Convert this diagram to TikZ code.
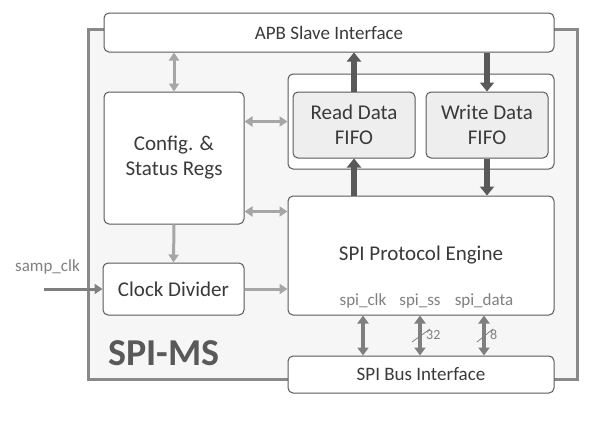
\documentclass[tikz,border=0pt]{standalone}
\usepackage{fontspec}
\setmainfont{Carlito}
\usetikzlibrary{positioning}
\usetikzlibrary{arrows.meta}
\definecolor{boxline}{HTML}{595959}
\definecolor{frameline}{HTML}{898989}
\definecolor{framefill}{HTML}{F6F6F6}
\definecolor{fifofill}{HTML}{EEEEEE}
\definecolor{litearrow}{HTML}{A6A6A6}
\definecolor{darkarrow}{HTML}{595959}
\definecolor{busarrow}{HTML}{7F7F7F}
\definecolor{textdark}{HTML}{3A3A3A}
\definecolor{textgray}{HTML}{808080}

\begin{document}
\begin{tikzpicture}[x=1pt,y=-1pt]
\tikzset{block/.style={rectangle, rounded corners=5pt, draw=boxline, line width=1pt, fill=white, text=textdark, align=center, font=\fontsize{21}{25}\selectfont, inner sep=0pt}}
\tikzset{fifo/.style={block, fill=fifofill, minimum width=122pt, minimum height=66pt}}
\tikzset{frame/.style={rectangle, draw=frameline, line width=3pt, fill=framefill, minimum width=489pt, minimum height=350pt}}
\tikzset{ctrl/.style={draw=litearrow, line width=3pt, -{Triangle[width=10pt,length=8pt]}}}
\tikzset{ctrl2/.style={ctrl, {Triangle[width=10pt,length=8pt]}-{Triangle[width=10pt,length=8pt]}}}
\tikzset{data/.style={draw=darkarrow, line width=6pt, -{Triangle[width=14pt,length=9pt]}}}
\tikzset{pin/.style={draw=busarrow, line width=4pt, {Triangle[width=11pt,length=8pt]}-{Triangle[width=11pt,length=8pt]}}}
\tikzset{sig/.style={text=textgray, font=\fontsize{17}{20}\selectfont, inner sep=0pt, anchor=base}}
\tikzset{slash/.style={draw=busarrow, line width=0.8pt}}
\tikzset{buswidth/.style={text=textgray, font=\fontsize{14}{16}\selectfont, inner sep=0pt, anchor=west}}
\useasboundingbox (0,0) rectangle (600,421);
% outer block
\node[frame] (spims) at (332.5,204) {};
\node[text=boxline, font=\fontsize{38}{40}\selectfont\bfseries, inner sep=0pt, anchor=base west] (title) at (108,365) {SPI-MS};
% boxes
\node[block, minimum width=450pt, minimum height=39pt, font=\fontsize{19}{23}\selectfont] (apb) at (329,32.5) {APB Slave Interface};
\node[block, minimum width=140pt, minimum height=132pt] (cfg) at (174,158) {Config. \&\\Status Regs};
\node[block, minimum width=266pt, minimum height=95pt] (fifos) at (421,121.5) {};
\node[fifo] (rdfifo) at (354,125) {Read Data\\FIFO};
\node[fifo, right = 10pt of rdfifo] (wrfifo) {Write Data\\FIFO};
\node[block, minimum width=266pt, minimum height=119pt] (eng) at (421,255.5) {SPI Protocol Engine};
\node[block, minimum width=141pt, minimum height=52pt] (clkdiv) at (173.5,289) {Clock Divider};
\node[block, minimum width=266pt, minimum height=37pt, font=\fontsize{19}{23}\selectfont] (spibus) at (421,374.5) {SPI Bus Interface};
% signal names
\node[sig] (sclk) at (363,305) {spi\_clk};
\node[sig] (sss) at (420,305) {spi\_ss};
\node[sig] (sdata) at (484,305) {spi\_data};
\node[sig, anchor=base west] (samp) at (15,271) {samp\_clk};
% control paths
\draw[ctrl2] (cfg.north) -- (cfg.north |- apb.south);
\draw[ctrl2] (cfg.east |- fifos.west) -- (fifos.west);
\coordinate (e2) at ([yshift=-16pt]eng.north west);
\draw[ctrl2] (cfg.east |- e2) -- (e2);
\draw[ctrl] (cfg.south) -- (clkdiv.north);
\draw[ctrl] (clkdiv.east) -- (clkdiv.east -| eng.west);
\coordinate (sampin) at (44,289);
\draw[ctrl, draw=busarrow] (sampin) -- (clkdiv.west);
% data paths
\draw[data] (rdfifo.north) -- (rdfifo.north |- apb.south);
\draw[data] (rdfifo.south |- eng.north) -- (rdfifo.south);
\draw[data] (wrfifo.north |- apb.south) -- (wrfifo.north);
\draw[data] (wrfifo.south) -- (wrfifo.south |- eng.north);
% bus lines
\draw[pin] (sclk |- eng.south) -- (sclk |- spibus.north);
\draw[pin] (sss |- eng.south) -- (sss |- spibus.north);
\draw[pin] (sdata |- eng.south) -- (sdata |- spibus.north);
\coordinate (ssmid) at (421,335.5);
\coordinate (datamid) at (485,335.5);
\draw[slash] ([shift={(-9pt,-6.5pt)}]ssmid) -- ([shift={(9pt,6.5pt)}]ssmid);
\draw[slash] ([shift={(-8pt,-6.5pt)}]datamid) -- ([shift={(8pt,6.5pt)}]datamid);
\node[buswidth] (w32) at (426,335) {32};
\node[buswidth] (w8) at (490,335) {8};
\end{tikzpicture}
\end{document}
